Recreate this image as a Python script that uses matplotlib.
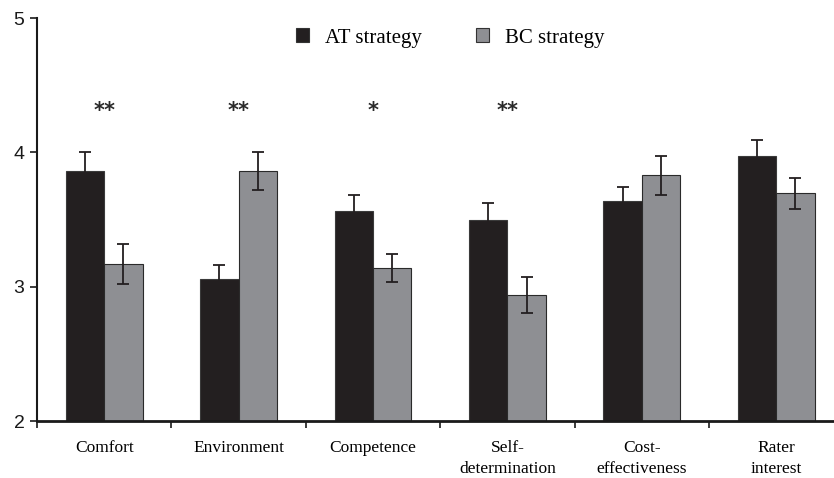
import matplotlib
matplotlib.use("Agg")
import matplotlib.pyplot as plt
import numpy as np
from matplotlib.patches import Patch

categories = ["Comfort", "Environment", "Competence", "Self-\ndetermination",
              "Cost-\neffectiveness", "Rater\ninterest"]
at_means = [3.86, 3.06, 3.56, 3.50, 3.64, 3.975]
at_err = [0.14, 0.10, 0.12, 0.12, 0.10, 0.115]
bc_means = [3.17, 3.86, 3.14, 2.94, 3.83, 3.695]
bc_err = [0.15, 0.14, 0.105, 0.135, 0.145, 0.115]
significance = ["**", "**", "*", "**", "", ""]
sig_level = 4.31

AT_COLOR = "#231f20"
BC_COLOR = "#8e8f93"
SERIF = "Liberation Serif"
SANS = "Liberation Sans"

fig = plt.figure(figsize=(8.34, 4.78), dpi=100)
ax = fig.add_axes([37 / 834, 57 / 478, 797 / 834, 403 / 478])

x = np.arange(len(categories))
w = 0.286
err_kw = dict(ecolor=AT_COLOR, elinewidth=1.3, capsize=4, capthick=1.3)
ax.bar(x - w / 2, at_means, w, color=AT_COLOR, edgecolor="#3a3a3a",
       linewidth=0.8, yerr=at_err, error_kw=err_kw, zorder=2)
ax.bar(x + w / 2, bc_means, w, color=BC_COLOR, edgecolor="#2a2a2a",
       linewidth=0.8, yerr=bc_err, error_kw=err_kw, zorder=2)

for xi, s in zip(x, significance):
    if s:
        ax.text(xi, sig_level, s, ha="center", va="center", fontsize=15,
                family="DejaVu Sans", fontweight="bold", color="#2a2a2a")

ax.set_ylim(2, 5)
ax.set_xlim(-0.5, 5.43)
ax.set_yticks([2, 3, 4, 5])
ax.set_yticklabels(["2", "3", "4", "5"], family=SANS, fontsize=14)
ax.tick_params(axis="y", direction="out", length=5, width=1.2, pad=4,
               colors="#1a1a1a")

ax.set_xticks(x)
ax.set_xticklabels(categories, family=SERIF, fontsize=12.5, linespacing=1.35,
                   va="top")
ax.tick_params(axis="x", which="major", length=0, pad=14)
ax.set_xticks(np.arange(-0.5, 5.5, 1.0), minor=True)
ax.tick_params(axis="x", which="minor", direction="out", length=5, width=1.2,
               color="#1a1a1a")

for side in ("top", "right"):
    ax.spines[side].set_visible(False)
ax.spines["left"].set_linewidth(1.5)
ax.spines["left"].set_color("#1a1a1a")
ax.spines["bottom"].set_linewidth(2.0)
ax.spines["bottom"].set_color("#1a1a1a")

handles = [Patch(facecolor=AT_COLOR, edgecolor="#333333", linewidth=0.8),
           Patch(facecolor=BC_COLOR, edgecolor="#333333", linewidth=0.8)]
fig.legend(handles, ["AT strategy", "BC strategy"], ncol=2, frameon=False,
           loc="center", bbox_to_anchor=(450 / 834, 1 - 38 / 478),
           prop={"family": SERIF, "size": 15}, handlelength=0.65,
           handleheight=0.65, handletextpad=0.75, columnspacing=2.6)

fig.savefig("out.png", dpi=100)
